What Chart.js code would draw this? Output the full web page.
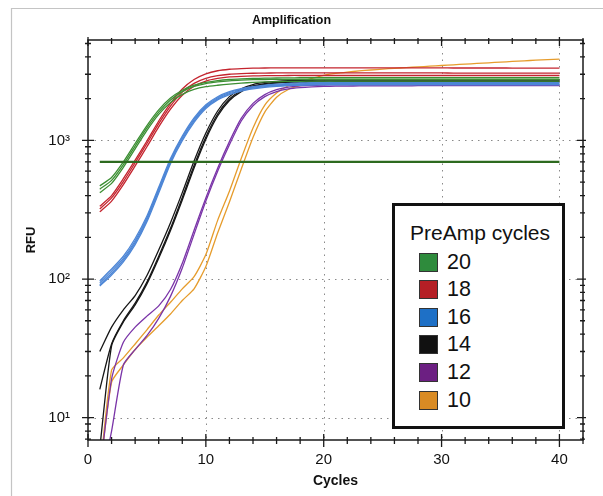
<!DOCTYPE html>
<html><head><meta charset="utf-8">
<script src="https://cdn.jsdelivr.net/npm/chart.js@4/dist/chart.umd.min.js"></script>
<style>
html,body{margin:0;padding:0;background:#fff;}
#wrap{position:relative;width:603px;height:496px;overflow:hidden;}
#c{position:absolute;left:0;top:0;}
#legend{position:absolute;left:392px;top:203px;width:167px;height:220px;border:3px solid #111;background:#fff;font-family:"Liberation Sans",Arial,sans-serif;color:#111;}
#legend .ttl{position:absolute;left:15px;top:15px;font-size:21px;line-height:24px;white-space:nowrap;}
#legend .row{position:absolute;left:24px;height:24px;display:flex;align-items:center;font-size:21.5px;white-space:nowrap;}
#legend .sw{width:17px;height:17px;border:1px solid #333;margin-right:9px;}
</style></head>
<body><div id="wrap"><canvas id="c" width="603" height="496"></canvas><div id="legend"></div></div>
<script>
const cycles = [1,2,3,4,5,6,7,8,9,10,11,12,13,14,15,16,17,18,19,20,21,22,23,24,25,26,27,28,29,30,31,32,33,34,35,36,37,38,39,40];
const xTickLabels = ['0','10','20','30','40'];
const yTickLabels = ['10¹','10²','10³'];
const thresholdRFU = 700;

// PreAmp 20 cycles
const pa20a = [470,540,700,950,1280,1660,2020,2300,2500,2620, 2700,2750,2780,2800,2810,2820,2825,2830,2830,2830, 2830,2830,2830,2830,2830,2830,2830,2830,2830,2830, 2830,2830,2830,2830,2830,2830,2830,2830,2830,2830];
const pa20b = [445,515,670,910,1230,1600,1960,2250,2450,2570, 2640,2690,2720,2740,2750,2755,2760,2760,2760,2760, 2760,2760,2760,2760,2760,2760,2760,2760,2760,2760, 2760,2760,2760,2760,2760,2760,2760,2760,2760,2760];
const pa20c = [420,490,640,870,1180,1540,1880,2150,2330,2440, 2500,2550,2590,2620,2640,2655,2665,2670,2675,2680, 2680,2680,2680,2680,2680,2680,2680,2680,2680,2680, 2680,2680,2680,2680,2680,2680,2680,2680,2680,2680];
// PreAmp 18 cycles
const pa18a = [335,400,530,720,990,1380,1850,2350,2750,3020, 3180,3260,3300,3320,3330,3335,3335,3335,3335,3335, 3335,3335,3335,3335,3335,3335,3335,3335,3335,3335, 3330,3330,3330,3330,3330,3325,3325,3325,3320,3320];
const pa18b = [320,385,505,690,950,1320,1770,2230,2580,2800, 2930,3000,3030,3050,3060,3065,3065,3065,3065,3065, 3065,3065,3065,3065,3065,3065,3065,3065,3065,3065, 3060,3060,3060,3060,3060,3060,3060,3060,3060,3060];
const pa18c = [305,365,480,655,900,1250,1680,2120,2460,2680, 2800,2870,2900,2920,2930,2935,2940,2940,2940,2940, 2940,2940,2940,2940,2940,2940,2940,2940,2940,2940, 2940,2940,2940,2940,2940,2940,2940,2940,2940,2940];
// PreAmp 16 cycles
const pa16a = [97,118,146,196,285,460,740,1075,1455,1805, 2065,2245,2365,2445,2505,2545,2575,2595,2605,2615, 2615,2615,2615,2615,2615,2615,2615,2615,2615,2615, 2615,2615,2615,2615,2615,2615,2615,2615,2615,2615];
const pa16b = [94,114,141,189,276,446,720,1050,1420,1770, 2030,2210,2330,2410,2470,2510,2540,2560,2570,2580, 2580,2580,2580,2580,2580,2580,2580,2580,2580,2580, 2580,2580,2580,2580,2580,2580,2580,2580,2580,2580];
const pa16c = [91,110,137,183,267,432,700,1020,1385,1735, 1995,2175,2300,2380,2440,2480,2510,2530,2540,2550, 2550,2550,2550,2550,2550,2550,2550,2550,2550,2550, 2550,2550,2550,2550,2550,2550,2550,2550,2550,2550];
const pa16d = [89,107,133,177,259,418,680,995,1350,1700, 1960,2140,2270,2350,2410,2450,2480,2500,2510,2520, 2520,2520,2520,2520,2520,2520,2520,2520,2520,2520, 2520,2520,2520,2520,2520,2520,2520,2520,2520,2520];
// PreAmp 14 cycles
const pa14a = [30,45,60,76,106,162,255,420,710,1130, 1630,2070,2360,2530,2620,2670,2700,2710,2715,2720, 2720,2720,2720,2720,2720,2720,2720,2720,2720,2720, 2720,2720,2720,2720,2720,2720,2720,2720,2720,2720];
const pa14b = [16,34,50,67,95,146,232,388,660,1060, 1550,1990,2290,2470,2570,2620,2650,2665,2670,2675, 2675,2675,2675,2675,2675,2675,2675,2675,2675,2675, 2675,2675,2675,2675,2675,2675,2675,2675,2675,2675];
const pa14c = [6,33,49,65,92,141,224,372,632,1020, 1500,1940,2250,2440,2540,2590,2620,2635,2640,2645, 2645,2645,2645,2645,2645,2645,2645,2645,2645,2645, 2645,2645,2645,2645,2645,2645,2645,2645,2645,2645];
// PreAmp 12 cycles
const pa12a = [3,8,24,31,39,52,75,120,210,365, 600,930,1380,1780,2070,2250,2350,2400,2430,2450, 2460,2465,2470,2470,2475,2475,2475,2480,2480,2480, 2480,2480,2480,2480,2480,2480,2480,2480,2480,2480];
const pa12b = [4,19,35,45,54,64,84,130,225,385, 630,980,1440,1850,2140,2320,2420,2470,2500,2510, 2515,2515,2520,2520,2520,2520,2520,2520,2520,2520, 2520,2520,2520,2520,2520,2520,2520,2520,2520,2520];
// PreAmp 10 cycles
const pa10a = [4,22,27,34,43,55,68,85,104,150, 265,430,740,1230,1800,2200,2480,2650,2800,2950, 3040,3110,3170,3220,3270,3310,3350,3390,3430,3470, 3510,3550,3590,3630,3670,3710,3750,3790,3825,3860];
const pa10b = [4,18,24,31,38,46,56,70,85,123, 215,360,620,1050,1600,2050,2330,2480,2560,2600, 2620,2630,2635,2640,2640,2640,2640,2640,2640,2640, 2640,2640,2640,2640,2640,2640,2640,2640,2640,2640];

const groupLabels = ['20','18','16','14','12','10'];
const groupSeries = [[pa20a,pa20b,pa20c],[pa18a,pa18b,pa18c],[pa16a,pa16b,pa16c,pa16d],[pa14a,pa14b,pa14c],[pa12a,pa12b],[pa10a,pa10b]];
const lineColors = ['#3c8f33','#c4242e','#4d86d6','#161616','#7a34a8','#e69c2c'];
const swatchColors = ['#2e8b3c','#b51f25','#1e70c6','#111111','#6c1f82','#d98b24'];

const datasets = [{
  label:'Threshold',
  data:[{x:cycles[0],y:thresholdRFU},{x:cycles[cycles.length-1],y:thresholdRFU}],
  borderColor:'#2d6a1f',borderWidth:2.2,pointRadius:0,fill:false
}];
groupSeries.forEach((grp,gi)=>{
  grp.forEach((vals,ri)=>{
    datasets.push({
      label:groupLabels[gi]+'-'+(ri+1),
      data:cycles.map((c,i)=>({x:c,y:vals[i]})),
      borderColor:lineColors[gi],borderWidth:1.3,pointRadius:0,tension:0.2,fill:false
    });
  });
});

function isPow10(v){const l=Math.log10(v);return Math.abs(l-Math.round(l))<1e-9;}

const axesPlugin = {
  id:'axesPlugin',
  beforeDraw(chart){
    const ctx=chart.ctx;
    ctx.save();
    ctx.fillStyle='#fff';ctx.fillRect(0,0,chart.width,chart.height);
    ctx.strokeStyle='#c4c4c4';ctx.lineWidth=1.2;
    ctx.beginPath();ctx.moveTo(11.5,chart.height+2);ctx.lineTo(11.5,8.5);ctx.lineTo(chart.width+2,8.5);ctx.stroke();
    ctx.restore();
  },
  beforeDatasetsDraw(chart){
    const {ctx,chartArea:a,scales:{x,y}}=chart;
    ctx.save();
    ctx.strokeStyle='#8a8a8a';ctx.lineWidth=1;ctx.setLineDash([1.5,5]);
    [10,20,30,40].forEach(v=>{const px=Math.round(x.getPixelForValue(v))+0.5;ctx.beginPath();ctx.moveTo(px,a.top);ctx.lineTo(px,a.bottom);ctx.stroke();});
    [10,100,1000].forEach(v=>{const py=Math.round(y.getPixelForValue(v))+0.5;ctx.beginPath();ctx.moveTo(a.left,py);ctx.lineTo(a.right,py);ctx.stroke();});
    ctx.restore();
  },
  afterDraw(chart){
    const {ctx,chartArea:a,scales:{x,y}}=chart;
    ctx.save();
    ctx.strokeStyle='#1a1a1a';ctx.lineWidth=1.5;
    ctx.strokeRect(a.left,a.top,a.right-a.left,a.bottom-a.top);
    ctx.lineWidth=1.3;
    for(let v=0;v<=42;v+=2){
      const px=x.getPixelForValue(v);const maj=(v%10===0);
      ctx.beginPath();
      ctx.moveTo(px,a.bottom-(maj?6:3));ctx.lineTo(px,a.bottom+(maj?7:4));
      ctx.moveTo(px,a.top-(maj?3:2));ctx.lineTo(px,a.top+(maj?6:4));
      ctx.stroke();
    }
    const yt=[];
    for(let e=0;e<=3;e++){for(let m=1;m<=9;m++){const v=m*Math.pow(10,e);if(v>=y.min&&v<=y.max)yt.push([v,m===1]);}}
    yt.forEach(([v,maj])=>{
      const py=y.getPixelForValue(v);
      ctx.beginPath();
      ctx.moveTo(a.left-(maj?6:3),py);ctx.lineTo(a.left+(maj?6:3),py);
      ctx.moveTo(a.right-(maj?6:3),py);ctx.lineTo(a.right+(maj?3:2),py);
      ctx.stroke();
    });
    ctx.restore();
  }
};

new Chart(document.getElementById('c'),{
  type:'line',
  data:{datasets},
  options:{
    responsive:false,animation:false,
    layout:{padding:{left:0,right:20,top:0,bottom:0}},
    plugins:{
      legend:{display:false},tooltip:{enabled:false},
      title:{display:true,text:'Amplification',color:'#111',font:{family:'Liberation Sans',size:12.5,weight:'bold'},padding:{top:13,bottom:12}}
    },
    scales:{
      x:{type:'linear',min:0,max:42,
        afterFit(s){s.height=56;},
        grid:{display:false,drawTicks:false},border:{display:false},
        ticks:{stepSize:10,includeBounds:false,autoSkip:false,maxRotation:0,padding:11,color:'#111',
          font:{family:'Liberation Sans',size:15},
          callback(v){const i=[0,10,20,30,40].indexOf(v);return i>=0?xTickLabels[i]:'';}},
        title:{display:true,text:'Cycles',color:'#111',font:{family:'Liberation Sans',size:14,weight:'bold'},padding:{top:0,bottom:6}}
      },
      y:{type:'logarithmic',min:6.9,max:5300,
        afterFit(s){s.width=88;},
        grid:{display:false,drawTicks:false},border:{display:false},
        ticks:{autoSkip:false,padding:18,color:'#111',font:{family:'Liberation Sans',size:15},
          callback(v){if(!isPow10(v))return '';const e=Math.round(Math.log10(v));return (e>=1&&e<=3)?yTickLabels[e-1]:'';}},
        title:{display:true,text:'RFU',color:'#111',font:{family:'Liberation Sans',size:13,weight:'bold'},padding:{top:24,bottom:0}}
      }
    }
  },
  plugins:[axesPlugin]
});

const lg=document.getElementById('legend');
const t=document.createElement('div');t.className='ttl';t.textContent='PreAmp cycles';lg.appendChild(t);
groupLabels.forEach((lab,i)=>{
  const r=document.createElement('div');r.className='row';r.style.top=(44+i*27.6)+'px';
  const sw=document.createElement('div');sw.className='sw';sw.style.background=swatchColors[i];
  const tx=document.createElement('span');tx.textContent=lab;
  r.appendChild(sw);r.appendChild(tx);lg.appendChild(r);
});
</script>
</body></html>
